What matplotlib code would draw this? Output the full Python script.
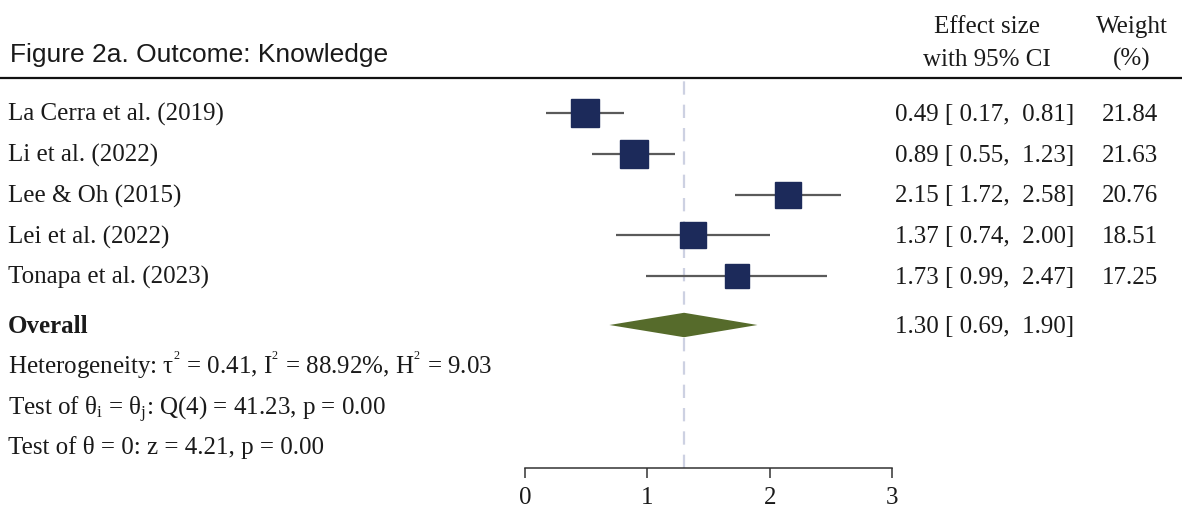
import numpy as np
import matplotlib
matplotlib.use("Agg")
import matplotlib.pyplot as plt
import matplotlib.transforms as mtransforms

#%% DATA
studies = ["La Cerra et al. (2019)", "Li et al. (2022)", "Lee & Oh (2015)",
           "Lei et al. (2022)", "Tonapa et al. (2023)"]
effect = [0.49, 0.89, 2.15, 1.37, 1.73]
ci_low = [0.17, 0.55, 1.72, 0.74, 0.99]
ci_high = [0.81, 1.23, 2.58, 2.00, 2.47]
weight = [21.84, 21.63, 20.76, 18.51, 17.25]

overall = 1.30
overall_low = 0.69
overall_high = 1.90

stats_lines = [r"Heterogeneity: τ$^{^{2}}$ = 0.41, I$^{^{2}}$ = 88.92%, H$^{^{2}}$ = 9.03",
               r"Test of θ$_{\mathrm{i}}$ = θ$_{\mathrm{j}}$: Q(4) = 41.23, p = 0.00",
               r"Test of θ = 0: z = 4.21, p = 0.00"]
xticks = [0, 1, 2, 3]

#%% STYLE
plt.rcParams['font.family'] = ['Liberation Serif', 'DejaVu Serif']
plt.rcParams['mathtext.fontset'] = 'custom'
plt.rcParams['mathtext.rm'] = 'Liberation Serif'
plt.rcParams['mathtext.it'] = 'Liberation Serif:italic'
plt.rcParams['mathtext.bf'] = 'Liberation Serif:bold'

W, H = 1182, 508
fs = 18
txt_col = '#1a1a1a'
sq_col = '#1c2a5a'
ci_col = '#5a5a5a'
dia_col = '#566b2b'
ref_col = '#cdd1e2'

fig = plt.figure(figsize=(W / 100, H / 100), dpi=100)

# forest panel: x 0..3 from px 525 to 892, spine at px 468, top at px 80
ax = fig.add_axes([525 / W, (H - 468) / H, (892 - 525) / W, (468 - 80) / H])
row_h = 40.75
ax.set_xlim(0, 3)
ax.set_ylim((468 - 113) / row_h, -(113 - 80) / row_h)

rows = np.arange(len(studies))
y_overall = (325 - 113) / row_h
y_stats = [(366 - 113) / row_h, (407 - 113) / row_h, (446 - 113) / row_h]

# reference line at overall estimate
ax.axvline(overall, color=ref_col, lw=1.6, dashes=(6, 4.5), zorder=1)

# CIs and squares
ax.hlines(rows, ci_low, ci_high, color=ci_col, lw=1.6, zorder=2)
for r, e, w in zip(rows, effect, weight):
    ax.plot(e, r, marker='s', ls='none', ms=4.2 * np.sqrt(w), color=sq_col,
            mec=sq_col, zorder=3)

# overall diamond
dh = 0.3
ax.fill([overall_low, overall, overall_high, overall],
        [y_overall, y_overall - dh, y_overall, y_overall + dh],
        color=dia_col, lw=0, zorder=3)

for s in ['top', 'right', 'left']:
    ax.spines[s].set_visible(False)
ax.spines['bottom'].set_color('#333333')
ax.spines['bottom'].set_linewidth(1.1)
ax.set_yticks([])
ax.set_xticks(xticks)
ax.set_xticklabels([str(t) for t in xticks])
ax.tick_params(axis='x', direction='out', length=7, width=1.1, color='#333333',
               labelsize=fs, labelcolor=txt_col, pad=7)
ax.patch.set_visible(False)

#%% TEXT COLUMNS
# baseline sits ~8 px under the row centre
base = mtransforms.ScaledTranslation(0, -8 / 100, fig.dpi_scale_trans)
tr = mtransforms.blended_transform_factory(fig.transFigure, ax.transData) + base

for r, name, e, lo, hi, w in zip(rows, studies, effect, ci_low, ci_high, weight):
    fig.text(8 / W, r, name, transform=tr, ha='left', va='baseline', fontsize=fs, color=txt_col)
    fig.text(1074 / W, r, "%.2f [ %.2f,  %.2f]" % (e, lo, hi), transform=tr,
             ha='right', va='baseline', fontsize=fs, color=txt_col)
    fig.text(1158 / W, r, "%.2f" % w, transform=tr, ha='right', va='baseline',
             fontsize=fs, color=txt_col)

fig.text(8 / W, y_overall, "Overall", transform=tr, ha='left', va='baseline',
         fontsize=fs, fontweight='bold', color=txt_col)
fig.text(1074 / W, y_overall, "%.2f [ %.2f,  %.2f]" % (overall, overall_low, overall_high),
         transform=tr, ha='right', va='baseline', fontsize=fs, color=txt_col)

for y, line in zip(y_stats, stats_lines):
    fig.text(8 / W, y, line, transform=tr, ha='left', va='baseline', fontsize=fs, color=txt_col)

#%% HEADER
fig.text(10 / W, 1 - 62 / H, "Figure 2a. Outcome: Knowledge", family='Liberation Sans',
         ha='left', va='baseline', fontsize=19, color=txt_col)
fig.text(987 / W, 1 - 33 / H, "Effect size", ha='center', va='baseline', fontsize=fs, color=txt_col)
fig.text(987 / W, 1 - 66 / H, "with 95% CI", ha='center', va='baseline', fontsize=fs, color=txt_col)
fig.text(1132 / W, 1 - 33 / H, "Weight", ha='center', va='baseline', fontsize=fs, color=txt_col)
fig.text(1132 / W, 1 - 66 / H, "(%)", ha='center', va='baseline', fontsize=fs, color=txt_col)

fig.add_artist(plt.Line2D([0, 1], [1 - 78 / H, 1 - 78 / H], transform=fig.transFigure,
                          color='#111111', lw=1.6))

fig.savefig("out.png", dpi=100, facecolor='white')
